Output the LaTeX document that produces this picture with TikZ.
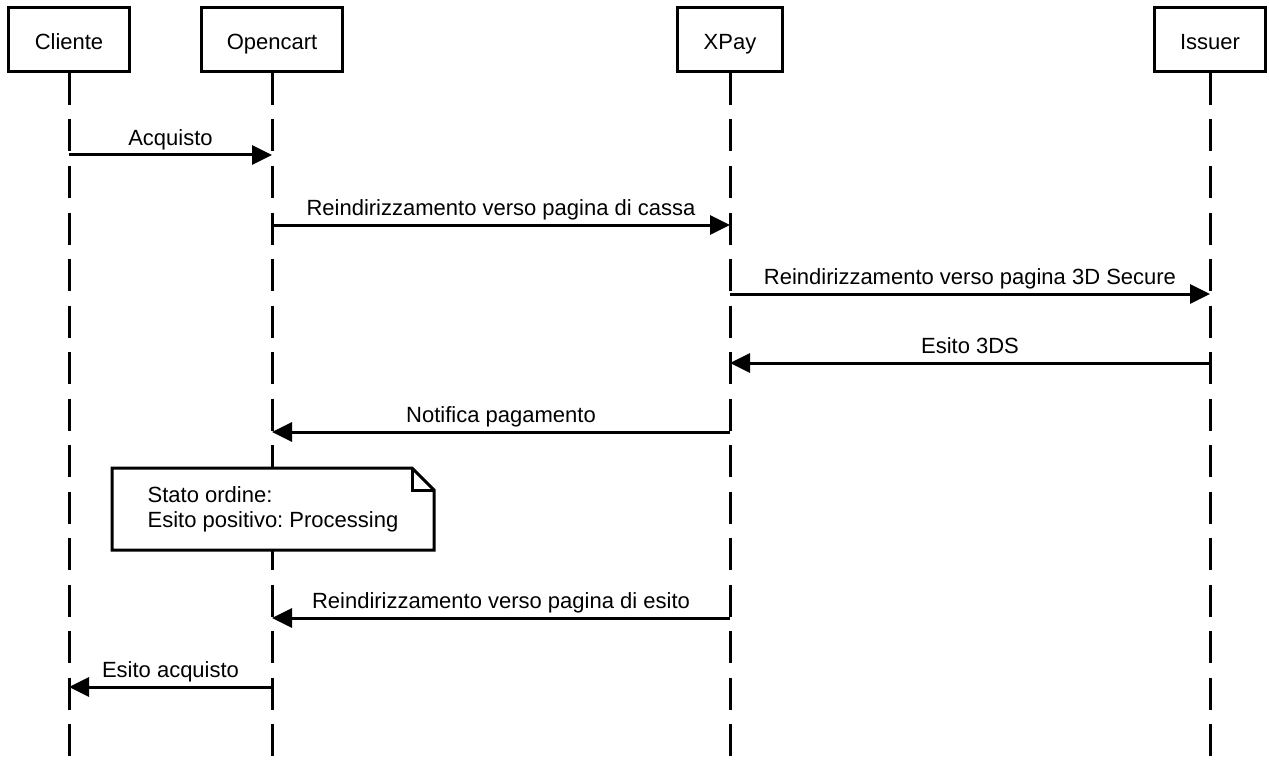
\documentclass[tikz,border=0pt]{standalone}
\usepackage{fontspec}
\setmainfont{Liberation Sans}
\frenchspacing
\usetikzlibrary{arrows.meta}
\begin{document}
\begin{tikzpicture}[x=1pt,y=-1pt,line width=3pt,
    every node/.style={font=\fontsize{22}{25}\selectfont},
    actor/.style={draw,minimum height=64pt,inner sep=0pt,
      text height=21pt,text depth=0pt},
    life/.style={dash pattern=on 32pt off 14.5pt},
    msg/.style={-{Triangle[length=20pt,width=19pt]}},
    lbl/.style={anchor=base,yshift=9.5pt}]
  \useasboundingbox (0,0) rectangle (1269,765);
  \node[actor,minimum width=121pt] (cliente) at (69,39.5) {Cliente};
  \node[actor,minimum width=141pt] (opencart) at (272,39.5) {Opencart};
  \node[actor,minimum width=105pt] (xpay) at (730,39.5) {XPay};
  \node[actor,minimum width=111pt] (issuer) at (1210,39.5) {Issuer};
  \coordinate (bottom) at (0,758);
  \foreach \n in {cliente,opencart,xpay,issuer}
    \draw[life] (\n.south) -- (\n |- bottom);
  % message rows
  \coordinate (r1) at (0,155);
  \coordinate (r2) at (0,225);
  \coordinate (r3) at (0,294);
  \coordinate (r4) at (0,363);
  \coordinate (r5) at (0,432);
  \coordinate (r6) at (0,618);
  \coordinate (r7) at (0,687);
  \draw[msg] (cliente |- r1) -- (opencart |- r1)
    node[midway,lbl] {Acquisto};
  \draw[msg] (opencart |- r2) -- (xpay |- r2)
    node[midway,lbl] {Reindirizzamento verso pagina di cassa};
  \draw[msg] (xpay |- r3) -- (issuer |- r3)
    node[midway,lbl] {Reindirizzamento verso pagina 3D Secure};
  \draw[msg] (issuer |- r4) -- (xpay |- r4)
    node[midway,lbl] {Esito 3DS};
  \draw[msg] (xpay |- r5) -- (opencart |- r5)
    node[midway,lbl] {Notifica pagamento};
  % note
  \node[minimum width=319pt,minimum height=79pt,inner sep=0pt,align=left]
    (note) at (273,509) {};
  \filldraw[fill=white] (note.north west) -- ([xshift=-22pt]note.north east)
    -- ([yshift=-22pt]note.north east) -- (note.south east)
    -- (note.south west) -- cycle;
  \draw ([xshift=-22pt]note.north east) |- ([yshift=-22pt]note.north east);
  \node[align=left] (notetext) at (note.center)
    {Stato ordine:\\Esito positivo: Processing};
  \draw[msg] (xpay |- r6) -- (opencart |- r6)
    node[midway,lbl] {Reindirizzamento verso pagina di esito};
  \draw[msg] (opencart |- r7) -- (cliente |- r7)
    node[midway,lbl] {Esito acquisto};
\end{tikzpicture}
\end{document}
